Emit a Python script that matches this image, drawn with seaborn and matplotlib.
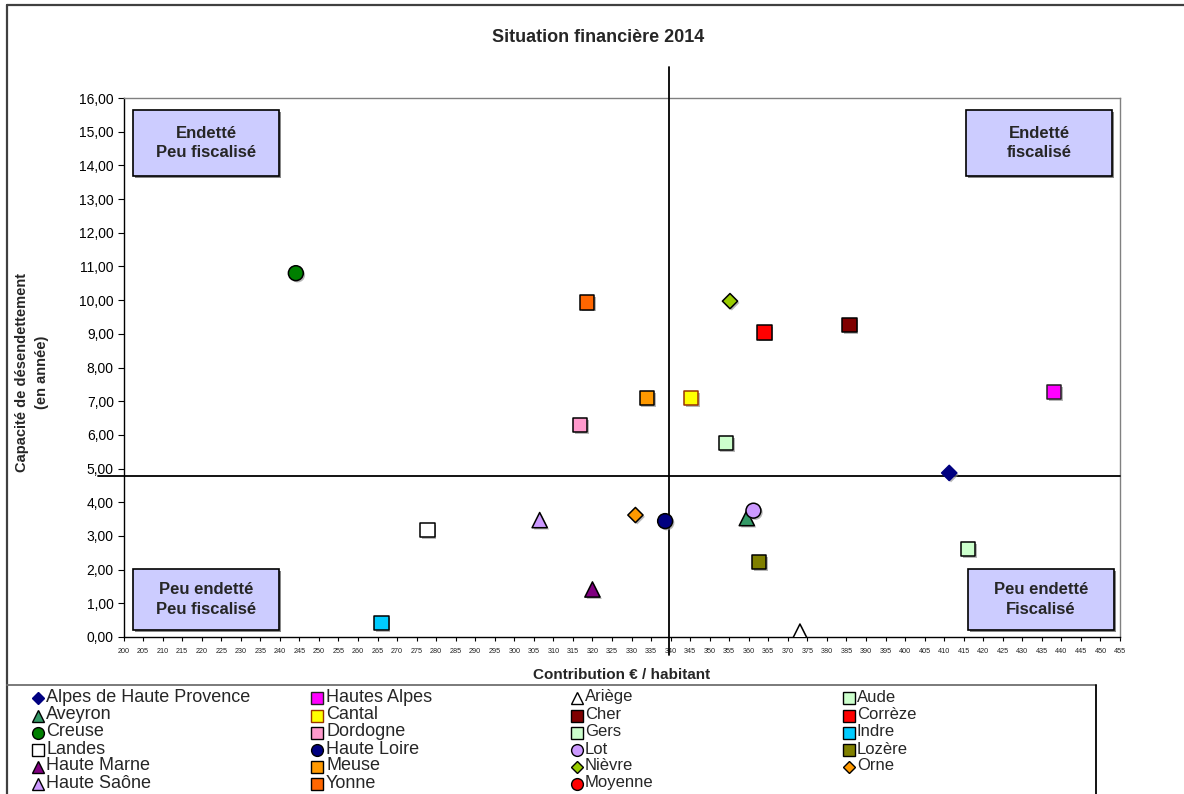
import matplotlib
matplotlib.use("Agg")
import matplotlib.pyplot as plt
import matplotlib.patheffects as pe
from matplotlib.lines import Line2D
from matplotlib.patches import Rectangle
from matplotlib.ticker import FuncFormatter, MultipleLocator
import seaborn as sns

# ---------------- data ----------------
departements = ["Alpes de Haute Provence", "Hautes Alpes", "Ariège", "Aude",
                "Aveyron", "Cantal", "Cher", "Corrèze",
                "Creuse", "Dordogne", "Gers", "Indre",
                "Landes", "Haute Loire", "Lot", "Lozère",
                "Haute Marne", "Meuse", "Nièvre", "Orne",
                "Haute Saône", "Yonne"]
contribution = [411.3, 438.2, 373.1, 416.1,
                359.5, 345.2, 385.8, 364.0,
                244.1, 316.8, 354.1, 266.0,
                277.8, 338.6, 361.2, 362.7,
                320.0, 333.9, 355.2, 331.0,
                306.5, 318.6]
capacite = [4.87, 7.27, 0.16, 2.61,
            3.53, 7.10, 9.26, 9.04,
            10.80, 6.29, 5.75, 0.42,
            3.17, 3.44, 3.75, 2.23,
            1.41, 7.10, 9.97, 3.62,
            3.47, 9.93]
moyenne_label = "Moyenne"
moyenne_contribution = 339.7
moyenne_capacite = 4.78

title = "Situation financière 2014"
x_label = "Contribution € / habitant"
y_label = "Capacité de désendettement\n(en année)"
quadrant_labels = ["Endetté\nPeu fiscalisé", "Endetté\nfiscalisé",
                   "Peu endetté\nPeu fiscalisé", "Peu endetté\nFiscalisé"]

# ---------------- styles ----------------
series_style = {
    "Alpes de Haute Provence": ("D", "#000080", "#000080"),
    "Hautes Alpes": ("s", "#FF00FF", "#222222"),
    "Ariège": ("^", "#FFFFFF", "#000000"),
    "Aude": ("s", "#CCFFCC", "#000000"),
    "Aveyron": ("^", "#339966", "#000000"),
    "Cantal": ("s", "#FFFF00", "#993300"),
    "Cher": ("s", "#800000", "#000000"),
    "Corrèze": ("s", "#FF0000", "#000000"),
    "Creuse": ("o", "#008000", "#000000"),
    "Dordogne": ("s", "#FF99CC", "#000000"),
    "Gers": ("s", "#CCFFCC", "#000000"),
    "Indre": ("s", "#00CCFF", "#000000"),
    "Landes": ("s", "#FFFFFF", "#000000"),
    "Haute Loire": ("o", "#000080", "#000000"),
    "Lot": ("o", "#CC99FF", "#000000"),
    "Lozère": ("s", "#808000", "#000000"),
    "Haute Marne": ("^", "#800080", "#000000"),
    "Meuse": ("s", "#FF9900", "#000000"),
    "Nièvre": ("D", "#99CC00", "#000000"),
    "Orne": ("D", "#FF9900", "#000000"),
    "Haute Saône": ("^", "#CC99FF", "#000000"),
    "Yonne": ("s", "#FF6600", "#000000"),
    "Moyenne": ("o", "#FF0000", "#000000"),
}
marker_size = {"s": 105, "o": 115, "^": 120, "D": 60}

sns.set_theme(style="white")
plt.rcParams["font.family"] = ["Liberation Sans", "DejaVu Sans"]

W, H = 1184, 794
fig = plt.figure(figsize=(W / 100, H / 100), dpi=100)
fig.patch.set_facecolor("white")


def fx(px):
    return px / W


def fy(py):
    return 1 - py / H


ax_l, ax_r, ax_t, ax_b = 123.5, 1120, 98, 637
ax = fig.add_axes([fx(ax_l), fy(ax_b), fx(ax_r - ax_l), (ax_b - ax_t) / H])
ax.set_facecolor("white")

shadow = [pe.SimplePatchShadow(offset=(1.3, -1.3), shadow_rgbFace="#888888", alpha=0.6), pe.Normal()]

for name, xv, yv in zip(departements, contribution, capacite):
    m, fc, ec = series_style[name]
    sns.scatterplot(x=[xv], y=[yv], marker=m, color=fc, edgecolor=ec,
                    s=marker_size[m], linewidth=1.1, ax=ax, zorder=5,
                    legend=False, path_effects=shadow)

# average lines (Moyenne)
ax.axhline(moyenne_capacite, xmin=(98 - ax_l) / (ax_r - ax_l), xmax=1.0,
           color="black", lw=1.3, zorder=3, clip_on=False)
ax.axvline(moyenne_contribution, ymin=(ax_b - 655) / (ax_b - ax_t),
           ymax=(ax_b - 67) / (ax_b - ax_t), color="black", lw=1.3,
           zorder=3, clip_on=False)

ax.set_xlim(200, 455)
ax.set_ylim(0, 16)
ax.xaxis.set_major_locator(MultipleLocator(5))
ax.yaxis.set_major_locator(MultipleLocator(1))
ax.yaxis.set_major_formatter(FuncFormatter(lambda v, p: f"{v:.2f}".replace(".", ",")))
ax.tick_params(axis="x", direction="out", length=3, width=0.8, labelsize=5.2,
               pad=5, colors="black", bottom=True)
ax.tick_params(axis="y", direction="out", length=4, width=0.8, labelsize=10,
               pad=3, colors="black", left=True)
for lab in ax.get_xticklabels():
    lab.set_color("#222222")

ax.spines["left"].set_color("black")
ax.spines["bottom"].set_color("black")
ax.spines["top"].set_color("#808080")
ax.spines["right"].set_color("#808080")
for s in ax.spines.values():
    s.set_linewidth(1.0)
ax.grid(False)

ax.set_xlabel(x_label, fontsize=11, fontweight="bold", va="center")
ax.xaxis.set_label_coords(0.5, (ax_b - 675) / (ax_b - ax_t))
ax.set_ylabel(y_label, fontsize=10.5, fontweight="bold", va="center",
              ha="center", linespacing=1.5)
ax.yaxis.set_label_coords((32 - ax_l) / (ax_r - ax_l), (ax_b - 372) / (ax_b - ax_t))

fig.text(fx(598), fy(38), title, ha="center", va="center", fontsize=13,
         fontweight="bold")

# quadrant boxes (pixel boxes: left, top, right, bottom)
boxes = [(133, 110, 279, 176), (966, 110, 1112, 176),
         (133, 569, 279, 630), (968, 569, 1114, 630)]
for (l, t, r, b), txt in zip(boxes, quadrant_labels):
    fig.patches.append(Rectangle((fx(l + 1.5), fy(b + 1.5)), fx(r - l), (b - t) / H,
                                 transform=fig.transFigure, facecolor="#888888",
                                 edgecolor="none", zorder=6))
    fig.patches.append(Rectangle((fx(l), fy(b)), fx(r - l), (b - t) / H,
                                 transform=fig.transFigure, facecolor="#CCCCFF",
                                 edgecolor="black", lw=1.2, zorder=7))
    fig.text(fx((l + r) / 2), fy((t + b) / 2), txt, ha="center", va="center",
             fontsize=12, fontweight="bold", linespacing=1.4, zorder=8)

# chart frame
fig.add_artist(Line2D([fx(7), fx(7)], [fy(5), fy(800)], transform=fig.transFigure,
                      color="#404040", lw=1.6))
fig.add_artist(Line2D([fx(7), fx(1190)], [fy(5), fy(5)], transform=fig.transFigure,
                      color="#404040", lw=1.6))
# legend box
fig.add_artist(Line2D([fx(7), fx(1096)], [fy(685), fy(685)], transform=fig.transFigure,
                      color="#707070", lw=1.3))
fig.add_artist(Line2D([fx(1096), fx(1096)], [fy(685), fy(800)], transform=fig.transFigure,
                      color="black", lw=1.3))

legend_entries = departements + [moyenne_label]
col_marker_x = [38, 317, 577, 849]
col_text_x = [46, 326, 585, 857]
col_font = [13, 13, 12, 12]
row_y = [697, 714.5, 732, 749, 766, 783]
for i, name in enumerate(legend_entries):
    r, c = divmod(i, 4)
    m, fc, ec = series_style[name]
    ms = {"s": 8, "o": 8.5, "^": 8.5, "D": 6.5}[m]
    fig.add_artist(Line2D([fx(col_marker_x[c])], [fy(row_y[r] + 1)], marker=m,
                          markersize=ms, markerfacecolor=fc, markeredgecolor=ec,
                          markeredgewidth=1.0, linestyle="none",
                          transform=fig.transFigure))
    fig.text(fx(col_text_x[c]), fy(row_y[r]), name, ha="left", va="center",
             fontsize=col_font[c])

fig.savefig("out.png", dpi=100)
